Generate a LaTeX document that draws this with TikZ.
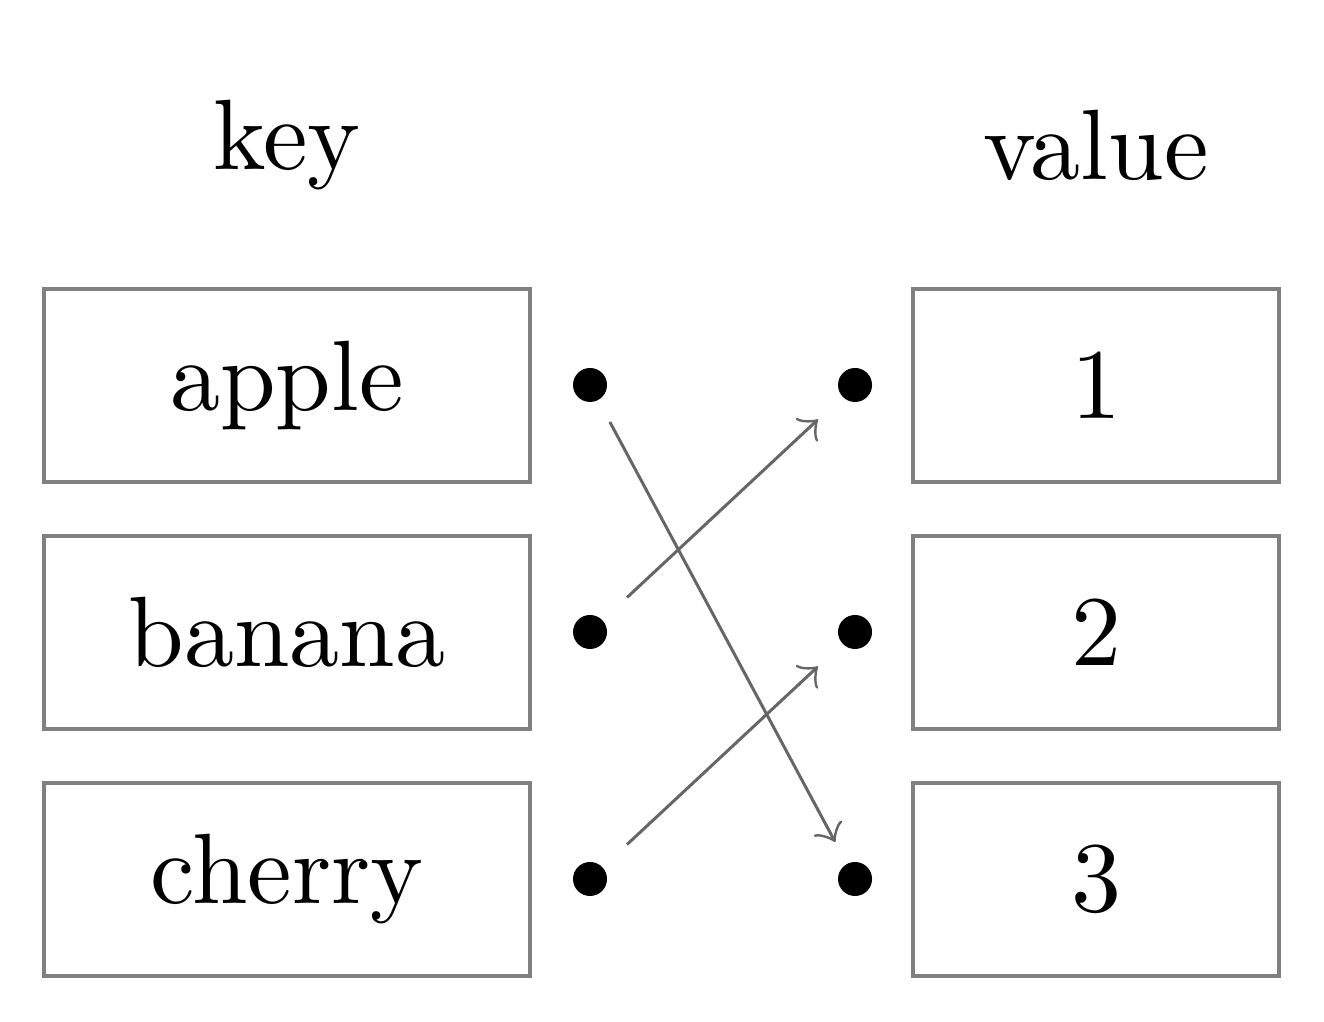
\documentclass[tikz,border=0pt]{standalone}
\begin{document}
\begin{tikzpicture}[x=0.1pt,y=-0.1pt,
  keybox/.style={draw=black!50,line width=0.4pt,minimum width=48.6pt,minimum height=19.3pt,inner sep=0pt},
  valbox/.style={draw=black!50,line width=0.4pt,minimum width=36.6pt,minimum height=19.3pt,inner sep=0pt},
  dotnode/.style={draw=none,minimum size=7pt,inner sep=0pt},
  link/.style={->,draw=black!60,line width=0.3pt}]
\useasboundingbox (0,0) rectangle (1324,1022);
\node (key) at (287,145) {key};
\node (value) at (1096,145) {value};
\node[keybox] (k1) at (287,385.5) {apple};
\node[keybox] (k2) at (287,632.5) {banana};
\node[keybox] (k3) at (287,879.5) {cherry};
\node[valbox] (v1) at (1096,385.5) {1};
\node[valbox] (v2) at (1096,632.5) {2};
\node[valbox] (v3) at (1096,879.5) {3};
\node[dotnode] (a1) at (590,385) {};
\node[dotnode] (a2) at (590,632) {};
\node[dotnode] (a3) at (590,879) {};
\node[dotnode] (b1) at (855,385) {};
\node[dotnode] (b2) at (855,632) {};
\node[dotnode] (b3) at (855,879) {};
\foreach \n in {a1,a2,a3,b1,b2,b3} \fill (\n.center) circle (1.7pt);
\draw[link] (a1) -- (b3);
\draw[link] (a2) -- (b1);
\draw[link] (a3) -- (b2);
\end{tikzpicture}
\end{document}
